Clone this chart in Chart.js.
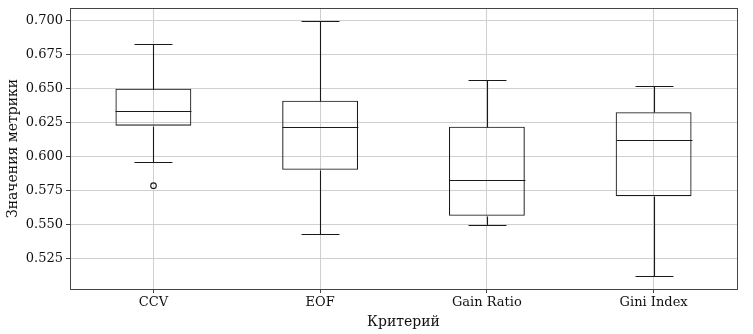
<!DOCTYPE html>
<html>
<head>
<meta charset="utf-8">
<script src="https://cdn.jsdelivr.net/npm/chart.js@4/dist/chart.umd.min.js"></script>
<style>
  html, body { margin: 0; padding: 0; background: #fff; }
  #wrap { width: 753px; height: 334px; }
</style>
</head>
<body>
<div id="wrap"><canvas id="boxChart" width="753" height="334"></canvas></div>
<script>
// box plot stats per criterion
const categories = ['CCV', 'EOF', 'Gain Ratio', 'Gini Index'];
const whiskerLow = [0.5963, 0.5434, 0.5500, 0.5125];
const q1 = [0.6228, 0.5904, 0.5566, 0.5710];
const median = [0.6338, 0.6221, 0.5831, 0.6125];
const q3 = [0.6500, 0.6412, 0.6221, 0.6327];
const whiskerHigh = [0.6827, 0.7000, 0.6566, 0.6518];
const outliers = [[0.5787], [], [], []];
const yTicks = [0.525, 0.550, 0.575, 0.600, 0.625, 0.650, 0.675, 0.700];

const lineColor = '#1a1a1a';
const gridColor = '#cfcfcf';
const frameColor = '#444';
const fontFamily = '"DejaVu Serif", serif';

// whiskers, caps, medians, fliers + the frame
const boxExtras = {
    id: 'boxExtras',
    afterDatasetsDraw(chart) {
        const ctx = chart.ctx;
        const x = chart.scales.x;
        const y = chart.scales.y;
        const meta = chart.getDatasetMeta(0);
        ctx.save();
        ctx.strokeStyle = lineColor;
        ctx.lineWidth = 1.1;
        categories.forEach((c, i) => {
            const cx = Math.round(x.getPixelForValue(i)) + 0.5;
            const halfBox = meta.data[i].width / 2;
            const halfCap = halfBox / 2;
            const px = (v) => Math.round(y.getPixelForValue(v)) + 0.5;
            ctx.beginPath();
            // lower whisker
            ctx.moveTo(cx, px(q1[i]));
            ctx.lineTo(cx, px(whiskerLow[i]));
            ctx.moveTo(cx - halfCap, px(whiskerLow[i]));
            ctx.lineTo(cx + halfCap, px(whiskerLow[i]));
            // upper whisker
            ctx.moveTo(cx, px(q3[i]));
            ctx.lineTo(cx, px(whiskerHigh[i]));
            ctx.moveTo(cx - halfCap, px(whiskerHigh[i]));
            ctx.lineTo(cx + halfCap, px(whiskerHigh[i]));
            // median
            ctx.moveTo(cx - halfBox, px(median[i]));
            ctx.lineTo(cx + halfBox, px(median[i]));
            ctx.stroke();
            outliers[i].forEach((v) => {
                ctx.beginPath();
                ctx.arc(cx, y.getPixelForValue(v), 2.8, 0, Math.PI * 2);
                ctx.stroke();
            });
        });
        const a = chart.chartArea;
        ctx.strokeStyle = frameColor;
        ctx.lineWidth = 1;
        ctx.strokeRect(Math.round(a.left) + 0.5, Math.round(a.top) + 0.5,
            Math.round(a.right - a.left), Math.round(a.bottom - a.top));
        ctx.restore();
    }
};

const ctx = document.getElementById('boxChart').getContext('2d');
new Chart(ctx, {
    type: 'bar',
    data: {
        labels: categories,
        datasets: [{
            data: categories.map((c, i) => [q1[i], q3[i]]),
            backgroundColor: 'rgba(0,0,0,0)',
            borderColor: lineColor,
            borderWidth: 1.1,
            borderSkipped: false,
            barPercentage: 0.455,
            categoryPercentage: 1.0
        }]
    },
    plugins: [boxExtras],
    options: {
        responsive: false,
        animation: false,
        events: [],
        layout: { padding: { top: 8, right: 16, left: 0, bottom: 0 } },
        plugins: {
            legend: { display: false },
            tooltip: { enabled: false }
        },
        scales: {
            x: {
                offset: true,
                grid: {
                    offset: false,
                    color: gridColor,
                    drawTicks: true,
                    tickLength: 4,
                    tickColor: frameColor
                },
                border: { display: true, color: frameColor },
                ticks: {
                    color: '#111',
                    padding: 2,
                    maxRotation: 0,
                    font: { family: fontFamily, size: 13 }
                },
                title: {
                    display: true,
                    text: 'Критерий',
                    color: '#111',
                    padding: { top: 0, bottom: 3 },
                    font: { family: fontFamily, size: 14, lineHeight: 1.2 }
                },
                afterFit(scale) {
                    scale.height = 45;
                    scale.paddingLeft = 0;
                    scale.paddingRight = 0;
                }
            },
            y: {
                min: 0.5028,
                max: 0.7093,
                afterBuildTicks(scale) {
                    scale.ticks = yTicks.map((v) => ({ value: v }));
                },
                grid: {
                    color: gridColor,
                    drawTicks: true,
                    tickLength: 4,
                    tickColor: frameColor
                },
                border: { display: true, color: frameColor },
                ticks: {
                    color: '#111',
                    padding: 3,
                    font: { family: fontFamily, size: 13 },
                    callback: (v) => Number(v).toFixed(3)
                },
                title: {
                    display: true,
                    text: 'Значения метрики',
                    color: '#111',
                    padding: { top: 5, bottom: 0 },
                    font: { family: fontFamily, size: 14, lineHeight: 1.2 }
                },
                afterFit(scale) {
                    scale.width = 70;
                    // labels sit inside the padded range, no extra room needed
                    scale.paddingTop = 0;
                    scale.paddingBottom = 0;
                }
            }
        }
    }
});
</script>
</body>
</html>
